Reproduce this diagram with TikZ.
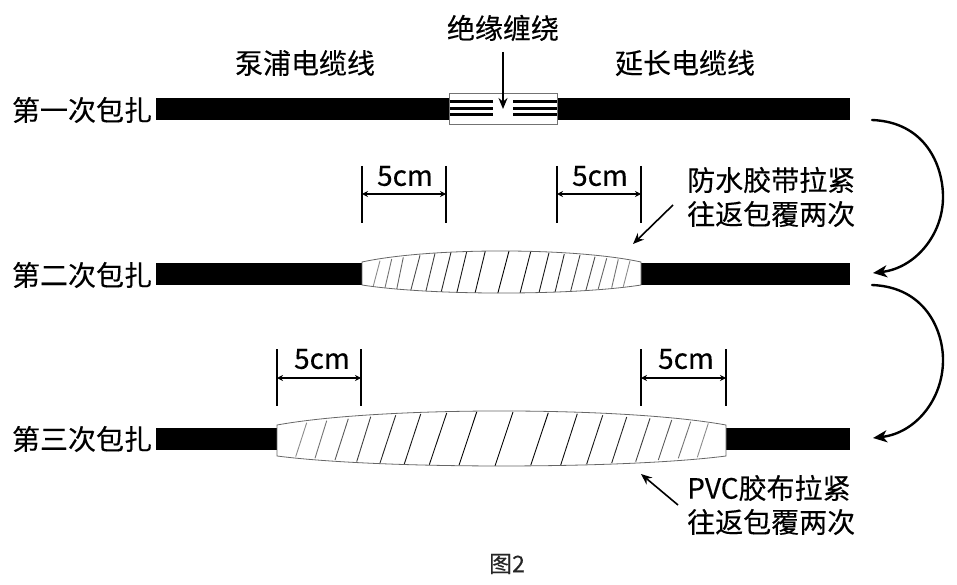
\documentclass[tikz,border=0pt]{standalone}
\usepackage{fontspec}
\setmainfont{Noto Sans CJK SC}[FakeBold=0.25]
\usetikzlibrary{arrows.meta}
\tikzset{
  lbl/.style={inner sep=0pt,font=\fontsize{28}{32}\selectfont,text=black},
  wrapfill/.style={fill=white,draw=black!60,line width=0.8pt},
  dimtick/.style={line width=1.7pt},
  dimarrow/.style={line width=1.3pt,{Stealth[length=6pt,width=6pt]}-{Stealth[length=6pt,width=6pt]}},
  pointer/.style={line width=1.6pt,-{Stealth[length=11pt,width=9pt]}},
  curvearrow/.style={line width=2.4pt,line cap=round,-{Stealth[length=14pt,width=12pt,inset=4pt]}},
  winding/.style={line width=3pt}
}
\begin{document}
\begin{tikzpicture}[x=1pt,y=-1pt]
\useasboundingbox (0,0) rectangle (957,585);
% cables
\fill (156,98) rectangle (850,120);
\fill (156,263) rectangle (850,285);
\fill (156,428) rectangle (850,450);
% insulation
\filldraw[fill=white,draw=black!55,line width=0.9pt] (449,93) rectangle (557,124);
\foreach \y in {102,108.5,115}{
  \draw[winding] (449.5,\y) -- (493,\y);
  \draw[winding] (513,\y) -- (556.5,\y);
}
% wrap 2
\path[fill=white] (362,262) .. controls (430,247.3) and (573,247.3) .. (641,262) -- (641,285) .. controls (573,295.7) and (430,295.7) .. (362,285) -- cycle;
\begin{scope}
\clip (362,262) .. controls (430,247.3) and (573,247.3) .. (641,262) -- (641,285) .. controls (573,295.7) and (430,295.7) .. (362,285) -- cycle;
\foreach \a/\b/\c/\d/\k in {
 380/260.7/373.3/286/45,391.7/259/385/287.7/55,403.3/257.3/396.7/289.3/60,
 420/255.3/410.7/290.7/70,435/253.3/425.7/292/75,451/252.3/441/292.7/85,
 466.7/251.7/456.7/293.3/90,485.3/251/475/293.3/95,509/251/497.7/293.7/100,
 530.7/251.7/520/293.3/95,549/252.7/539/292.7/90,564.3/254/555/292.3/85,
 580/255/570.7/291/75,595/256.7/586/290/70,606.7/258.3/598.3/288.7/60,
 618.3/259.3/611.7/287.7/55,630/260.7/623.3/286.7/45}{
  \draw[draw=black!\k,line width=0.9pt] (\a,\b) -- (\c,\d);
}
\end{scope}
\path[wrapfill,fill=none] (362,262) .. controls (430,247.3) and (573,247.3) .. (641,262) -- (641,285) .. controls (573,295.7) and (430,295.7) .. (362,285) -- cycle;
% wrap 3
\path[fill=white] (277,425) .. controls (380,406.3) and (623,406.3) .. (726,425) -- (726,456) .. controls (623,469.3) and (380,469.3) .. (277,456) -- cycle;
\begin{scope}
\clip (277,425) .. controls (380,406.3) and (623,406.3) .. (726,425) -- (726,456) .. controls (623,469.3) and (380,469.3) .. (277,456) -- cycle;
\foreach \a/\b/\c/\d/\k in {
 306.7/422.7/295.7/456.7/45,326.7/420.7/315/458.3/55,348.3/418.7/335/460/65,
 370.7/416.7/356.7/461.7/75,395.7/415.3/380/463/85,420.7/414/404.3/464/90,
 446.7/413/429.3/464.7/95,476.7/412/459/465.3/100,513/412/495/466/100,
 548.3/412.7/530.7/465.3/100,577.3/413.7/560.7/465/95,602.7/415.3/586.7/464/90,
 626.7/417/611.7/463/85,650/418.3/635.7/461.7/75,671.7/420/658.3/460/65,
 690.7/421.7/678.3/458.3/55,708.3/423.3/697.3/457.3/45}{
  \draw[draw=black!\k,line width=0.9pt] (\a,\b) -- (\c,\d);
}
\end{scope}
\path[wrapfill,fill=none] (277,425) .. controls (380,406.3) and (623,406.3) .. (726,425) -- (726,456) .. controls (623,469.3) and (380,469.3) .. (277,456) -- cycle;
% dimension marks
\coordinate (d1) at (362,194); \coordinate (d2) at (446,194);
\coordinate (d3) at (557,194); \coordinate (d4) at (641,194);
\coordinate (d5) at (277,378); \coordinate (d6) at (361,378);
\coordinate (d7) at (641,378); \coordinate (d8) at (726,378);
\foreach \x in {362,446,557,641}{\draw[dimtick] (\x,166) -- (\x,223);}
\foreach \x in {277,361,641,726}{\draw[dimtick] (\x,349) -- (\x,406);}
\draw[dimarrow] (d1) -- (d2);
\draw[dimarrow] (d3) -- (d4);
\draw[dimarrow] (d5) -- (d6);
\draw[dimarrow] (d7) -- (d8);
% labels
\node[lbl] (r1) at (82,110) {第一次包扎};
\node[lbl] (r2) at (82,275) {第二次包扎};
\node[lbl] (r3) at (82,439) {第三次包扎};
\node[lbl] (pump) at (305,63) {泵浦电缆线};
\node[lbl] (ext) at (685,63) {延长电缆线};
\node[lbl] (ins) at (503,28) {绝缘缠绕};
\node[lbl] (c1) at (405,176) {5cm};
\node[lbl] (c2) at (600,176) {5cm};
\node[lbl] (c3) at (322,359) {5cm};
\node[lbl] (c4) at (686,359) {5cm};
\node[lbl,anchor=west] (t1) at (687,180) {防水胶带拉紧};
\node[lbl,anchor=west] (t2) at (687,214) {往返包覆两次};
\node[lbl,anchor=west] (t3) at (687,488) {PVC胶布拉紧};
\node[lbl,anchor=west] (t4) at (687,522) {往返包覆两次};
\node[inner sep=0pt,font=\fontsize{23}{26}\selectfont,text=black!85] (cap) at (507,564) {图2};
% pointers
\coordinate (p1s) at (503,52); \coordinate (p1e) at (503,109);
\coordinate (p2s) at (673,205); \coordinate (p2e) at (633,244);
\coordinate (p3s) at (678,505); \coordinate (p3e) at (641,474);
\draw[pointer] (p1s) -- (p1e);
\draw[pointer] (p2s) -- (p2e);
\draw[pointer] (p3s) -- (p3e);
% bends
\coordinate (b1s) at (872,120); \coordinate (b1e) at (873,273);
\coordinate (b2s) at (872,285); \coordinate (b2e) at (873,438);
\draw[curvearrow] (b1s) .. controls (925,122) and (943,165) .. (943,197) .. controls (943,235) and (915,268) .. (b1e);
\draw[curvearrow] (b2s) .. controls (925,287) and (943,330) .. (943,360) .. controls (943,400) and (915,433) .. (b2e);
\end{tikzpicture}
\end{document}
